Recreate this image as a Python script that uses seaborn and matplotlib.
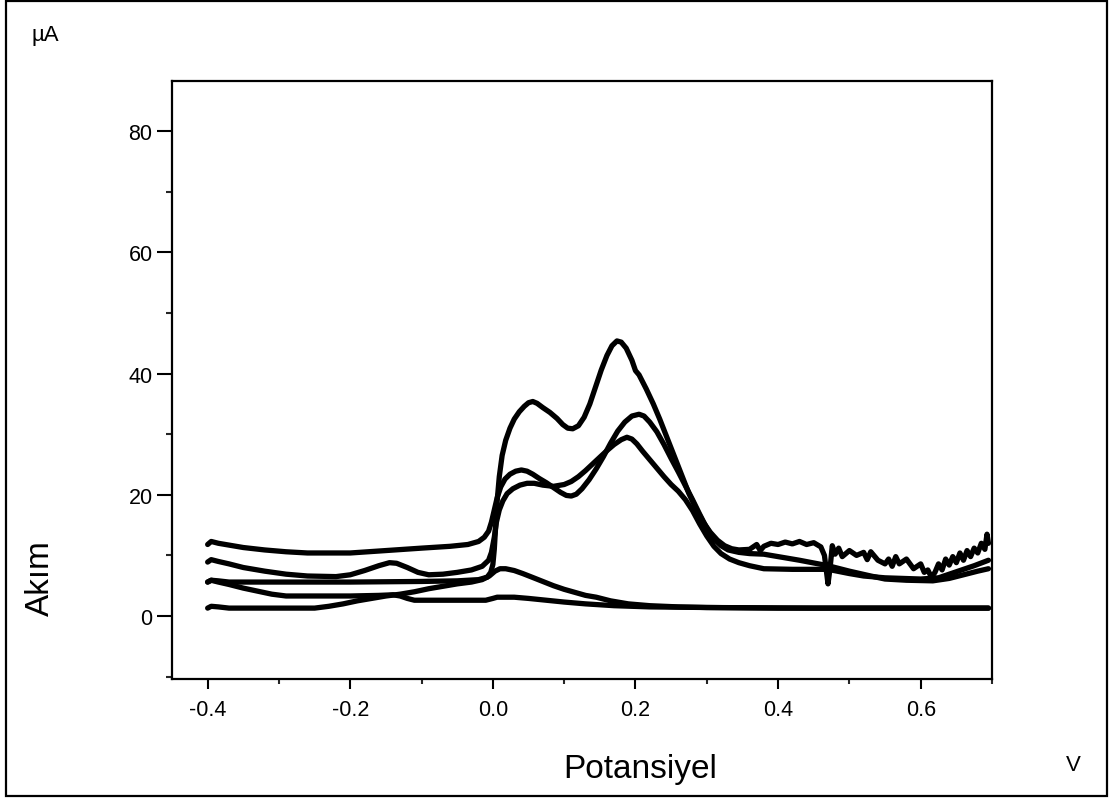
import matplotlib
matplotlib.use("Agg")
import matplotlib.pyplot as plt
import matplotlib.patches as mpatches
from matplotlib.ticker import FixedLocator
import seaborn as sns
import pandas as pd

sns.set_theme(style="white")
plt.rcParams['font.family'] = ['Liberation Sans', 'DejaVu Sans']
plt.rcParams['text.color'] = 'black'

# ---- data (potential in V, current in µA) ----
big_x = [-0.400, -0.395, -0.385, -0.370, -0.300, -0.200, -0.100, -0.050, -0.020, -0.008, -0.003, 0.000,
         0.002, 0.004, 0.006, 0.009, 0.013, 0.018, 0.024, 0.030, 0.037, 0.044, 0.050, 0.056, 0.062,
         0.070, 0.080, 0.090, 0.098, 0.105, 0.112, 0.120, 0.128, 0.136, 0.144, 0.152, 0.160, 0.167,
         0.174, 0.180, 0.187, 0.195, 0.200, 0.205, 0.215, 0.225, 0.234, 0.245, 0.255, 0.265, 0.275,
         0.285, 0.295, 0.305, 0.315, 0.325, 0.335, 0.345, 0.360]
big_y = [5.6, 5.9, 5.8, 5.6, 5.6, 5.6, 5.7, 5.8, 6.0, 6.4, 7.2, 8.5,
         11.0, 15.0, 19.0, 23.0, 26.5, 29.0, 31.0, 32.5, 33.7, 34.6, 35.2, 35.4, 35.1,
         34.4, 33.6, 32.6, 31.6, 31.0, 30.9, 31.4, 32.8, 35.0, 37.8, 40.6, 43.0, 44.6,
         45.4, 45.2, 44.2, 42.2, 40.5, 39.8, 37.5, 35.0, 32.5, 29.2, 26.2, 23.2, 20.2,
         17.7, 15.5, 13.8, 12.5, 11.6, 11.1, 10.9, 11.0]

noisy_x = [0.370, 0.375, 0.380, 0.390, 0.400, 0.410, 0.420, 0.430, 0.440, 0.450, 0.460, 0.465,
           0.470, 0.473, 0.476, 0.480, 0.485, 0.490, 0.500, 0.510, 0.520, 0.525, 0.530, 0.540, 0.550,
           0.555, 0.560, 0.565, 0.570, 0.580, 0.590, 0.600, 0.605, 0.610, 0.615, 0.620, 0.625, 0.630,
           0.635, 0.640, 0.645, 0.650, 0.655, 0.660, 0.665, 0.670, 0.675, 0.680, 0.685, 0.690, 0.693, 0.695]
noisy_y = [11.8, 10.8, 11.5, 12.0, 11.8, 12.2, 11.9, 12.3, 11.8, 12.1, 11.4, 10.0,
           5.3, 8.0, 11.6, 10.2, 11.2, 9.8, 10.8, 10.0, 10.5, 9.3, 10.6, 9.2, 8.6,
           9.4, 8.2, 9.8, 8.6, 9.4, 7.8, 8.6, 7.2, 7.6, 6.4, 7.2, 8.6, 7.6,
           9.4, 8.4, 9.8, 8.8, 10.4, 9.2, 10.8, 9.8, 11.2, 10.4, 12.0, 11.0, 13.5, 12.0]

mid_x = [-0.400, -0.395, -0.385, -0.370, -0.350, -0.320, -0.290, -0.260, -0.200, -0.150, -0.100, -0.060,
         -0.035, -0.020, -0.012, -0.006, -0.002, 0.002, 0.006, 0.011, 0.017, 0.024, 0.032, 0.040,
         0.048, 0.056, 0.065, 0.075, 0.085, 0.095, 0.103, 0.110, 0.117, 0.125, 0.135, 0.145, 0.155,
         0.165, 0.175, 0.185, 0.195, 0.205, 0.212, 0.220, 0.230, 0.240, 0.250, 0.260, 0.270, 0.280,
         0.290, 0.300, 0.310, 0.320, 0.330, 0.345, 0.360, 0.380, 0.400, 0.430, 0.470, 0.500, 0.530,
         0.550, 0.580, 0.617, 0.640, 0.660, 0.680, 0.695]
mid_y = [11.8, 12.3, 12.0, 11.7, 11.3, 10.9, 10.6, 10.4, 10.4, 10.8, 11.2, 11.5,
         11.8, 12.3, 13.0, 14.0, 15.5, 17.5, 19.5, 21.3, 22.6, 23.4, 23.9, 24.1,
         23.9, 23.4, 22.7, 22.0, 21.2, 20.4, 19.9, 19.8, 20.1, 21.0, 22.5, 24.3, 26.3,
         28.5, 30.5, 32.0, 33.0, 33.3, 33.0, 32.0, 30.4, 28.3, 26.0, 23.8, 21.5, 19.2,
         16.8, 14.5, 12.7, 11.6, 10.9, 10.5, 10.3, 10.2, 9.8, 9.2, 8.3, 7.4, 6.6,
         6.1, 5.9, 5.8, 6.2, 6.8, 7.4, 7.8]

third_x = [-0.400, -0.395, -0.385, -0.370, -0.350, -0.320, -0.290, -0.260, -0.220, -0.200, -0.180, -0.160,
           -0.145, -0.135, -0.120, -0.105, -0.090, -0.070, -0.050, -0.030, -0.015, -0.006, -0.002, 0.002,
           0.005, 0.009, 0.014, 0.020, 0.028, 0.038, 0.048, 0.058, 0.070, 0.085, 0.100, 0.110, 0.120,
           0.130, 0.140, 0.150, 0.160, 0.170, 0.180, 0.188, 0.195, 0.202, 0.210, 0.220, 0.230, 0.240,
           0.250, 0.260, 0.270, 0.280, 0.290, 0.300, 0.310, 0.320, 0.332, 0.345, 0.360, 0.380, 0.420,
           0.470, 0.500, 0.520, 0.550, 0.600, 0.625, 0.650, 0.675, 0.695]
third_y = [8.9, 9.3, 9.0, 8.6, 8.0, 7.4, 6.9, 6.6, 6.5, 6.8, 7.5, 8.3,
           8.8, 8.7, 8.0, 7.2, 6.8, 6.9, 7.2, 7.6, 8.2, 9.2, 10.5, 13.0,
           15.5, 17.5, 19.0, 20.2, 21.0, 21.6, 21.9, 21.9, 21.6, 21.4, 21.7, 22.2, 23.0,
           24.0, 25.1, 26.2, 27.3, 28.3, 29.1, 29.5, 29.2, 28.4, 27.2, 25.8, 24.4, 23.0,
           21.7, 20.6, 19.2, 17.4, 15.2, 13.2, 11.5, 10.3, 9.4, 8.8, 8.3, 7.8, 7.7,
           7.7, 7.0, 6.6, 6.3, 6.1, 6.3, 7.3, 8.3, 9.2]

low_x = [-0.400, -0.395, -0.385, -0.370, -0.350, -0.330, -0.310, -0.290, -0.200, -0.160, -0.140, -0.130,
         -0.120, -0.110, -0.050, -0.010, 0.000, 0.006, 0.030, 0.050, 0.075, 0.100, 0.130, 0.170,
         0.220, 0.300, 0.450, 0.695]
low_y = [5.6, 5.9, 5.6, 5.2, 4.6, 4.1, 3.6, 3.3, 3.3, 3.4, 3.5, 3.3,
         2.9, 2.6, 2.6, 2.6, 2.9, 3.1, 3.1, 2.9, 2.6, 2.3, 2.0, 1.7,
         1.5, 1.4, 1.3, 1.3]

small_x = [-0.400, -0.395, -0.385, -0.370, -0.300, -0.250, -0.230, -0.210, -0.190, -0.170, -0.150, -0.130,
           -0.110, -0.090, -0.070, -0.050, -0.030, -0.015, -0.005, 0.003, 0.010, 0.018, 0.030, 0.042,
           0.055, 0.070, 0.085, 0.100, 0.115, 0.130, 0.145, 0.165, 0.190, 0.220, 0.260, 0.300, 0.400,
           0.695]
small_y = [1.3, 1.6, 1.5, 1.3, 1.3, 1.3, 1.6, 2.0, 2.5, 2.9, 3.3, 3.6,
           4.0, 4.5, 4.9, 5.3, 5.6, 6.0, 6.6, 7.4, 7.8, 7.8, 7.5, 7.0,
           6.4, 5.7, 5.0, 4.4, 3.9, 3.4, 3.1, 2.5, 2.0, 1.7, 1.5, 1.4, 1.3,
           1.3]

curves = {
    "big": (big_x + noisy_x, big_y + noisy_y),
    "mid": (mid_x, mid_y),
    "third": (third_x, third_y),
    "low": (low_x, low_y),
    "small": (small_x, small_y),
}

rows = []
for name, (xs, ys) in curves.items():
    for i, (xv, yv) in enumerate(zip(xs, ys)):
        rows.append({"curve": name, "order": i, "Potansiyel": xv, "Akim": yv})
df = pd.DataFrame(rows)

fig = plt.figure(figsize=(11.13, 8.03), dpi=100)
ax = fig.add_axes([172/1113, 1-680/803, (992-172)/1113, (680-82)/803])

for name in curves:
    sub = df[df["curve"] == name]
    sns.lineplot(data=sub, x="Potansiyel", y="Akim", sort=False, estimator=None,
                 color="black", linewidth=3.8, ax=ax, legend=False)
for ln in ax.lines:
    ln.set_solid_capstyle("round")
    ln.set_solid_joinstyle("round")

ax.set_xlim(-0.45, 0.70)
ax.set_ylim(-10.4, 88.3)
ax.set_xlabel("")
ax.set_ylabel("")

ax.xaxis.set_major_locator(FixedLocator([-0.4, -0.2, 0.0, 0.2, 0.4, 0.6]))
ax.xaxis.set_minor_locator(FixedLocator([-0.3, -0.1, 0.1, 0.3, 0.5, 0.7]))
ax.yaxis.set_major_locator(FixedLocator([0, 20, 40, 60, 80]))
ax.yaxis.set_minor_locator(FixedLocator([-10, 10, 30, 50, 70]))
ax.set_xticklabels(["-0.4", "-0.2", "0.0", "0.2", "0.4", "0.6"])
ax.set_yticklabels(["0", "20", "40", "60", "80"])

ax.tick_params(axis="x", which="major", direction="out", length=7.5, width=1.5,
               labelsize=15.5, pad=7, colors="black", bottom=True)
ax.tick_params(axis="x", which="minor", direction="out", length=3.8, width=1.5, bottom=True)
ax.tick_params(axis="y", which="major", direction="out", length=11, width=1.5,
               labelsize=15.5, pad=3, colors="black", left=True)
ax.tick_params(axis="y", which="minor", direction="out", length=4.5, width=1.5, left=True)

for sp in ax.spines.values():
    sp.set_visible(True)
    sp.set_color("black")
    sp.set_linewidth(1.6)

fig.text(640/1113, 1-770/803, "Potansiyel", fontsize=24, ha="center", va="center", color="black")
fig.text(40/1113, 1-578/803, "Akım", fontsize=24, rotation=90, ha="center", va="center", color="black")
fig.text(45/1113, 1-35/803, "µA", fontsize=16, ha="center", va="center", color="black")
fig.text(1073/1113, 1-766/803, "V", fontsize=16, ha="center", va="center", color="black")

fig.patches.append(mpatches.Rectangle((6/1113, 6/803), (1107-6)/1113, (797-2)/803,
                                      transform=fig.transFigure, fill=False,
                                      edgecolor="black", linewidth=1.6))

fig.savefig("out.png", dpi=100, facecolor="white")
